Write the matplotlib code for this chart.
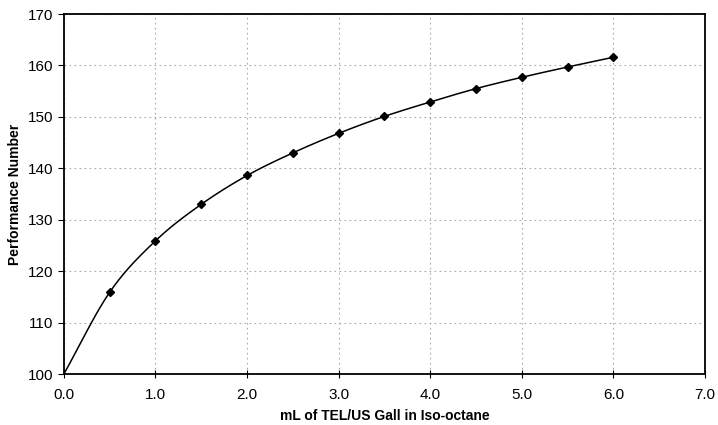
import numpy as np
import matplotlib
matplotlib.use("Agg")
import matplotlib.pyplot as plt

plt.rcParams['font.family'] = ['Liberation Sans', 'DejaVu Sans']

# data
tel_ml = [0.0, 0.5, 1.0, 1.5, 2.0, 2.5, 3.0, 3.5, 4.0, 4.5, 5.0, 5.5, 6.0]
perf_num = [100.0, 115.9, 125.9, 133.0, 138.6, 143.0, 146.8, 150.1, 152.9, 155.5, 157.7, 159.7, 161.6]
x_ticks = [0, 1, 2, 3, 4, 5, 6, 7]
y_ticks = [100, 110, 120, 130, 140, 150, 160, 170]


def smooth(x, y, n=30):
    # Catmull-Rom curve through the points, like a spreadsheet "smoothed line"
    p = np.column_stack([x, y])
    p = np.vstack([2 * p[0] - p[1], p, 2 * p[-1] - p[-2]])
    out = []
    t = np.linspace(0, 1, n, endpoint=False)[:, None]
    for i in range(1, len(p) - 2):
        p0, p1, p2, p3 = p[i - 1], p[i], p[i + 1], p[i + 2]
        seg = 0.5 * ((2 * p1) + (-p0 + p2) * t + (2 * p0 - 5 * p1 + 4 * p2 - p3) * t ** 2
                     + (-p0 + 3 * p1 - 3 * p2 + p3) * t ** 3)
        out.append(seg)
    out.append(p[-2][None, :])
    out = np.vstack(out)
    return out[:, 0], out[:, 1]


fig = plt.figure(figsize=(7.18, 4.25), dpi=100)
ax = fig.add_axes([0.089, 0.12, 0.893, 0.847])

sx, sy = smooth(tel_ml, perf_num)
ax.plot(sx, sy, color='black', lw=1.1)
ax.plot(tel_ml[1:], perf_num[1:], linestyle='none', marker='D', ms=4, color='black')

ax.set_xlim(0, 7)
ax.set_ylim(100, 170)
ax.set_xticks(x_ticks)
ax.set_xticklabels([f"{v:.1f}" for v in x_ticks])
ax.set_yticks(y_ticks)
ax.grid(True, color='#aaaaaa', linestyle=(0, (1.5, 3)), lw=0.8)
ax.tick_params(axis='x', direction='inout', length=6, labelsize=11, pad=7)
ax.tick_params(axis='y', direction='out', length=4, labelsize=11)
for s in ax.spines.values():
    s.set_linewidth(1.3)
ax.set_xlabel('mL of TEL/US Gall in Iso-octane', fontsize=10, fontweight='bold', labelpad=5)
ax.set_ylabel('Performance Number', fontsize=10, fontweight='bold', labelpad=4)

fig.savefig('out.png', dpi=100)
